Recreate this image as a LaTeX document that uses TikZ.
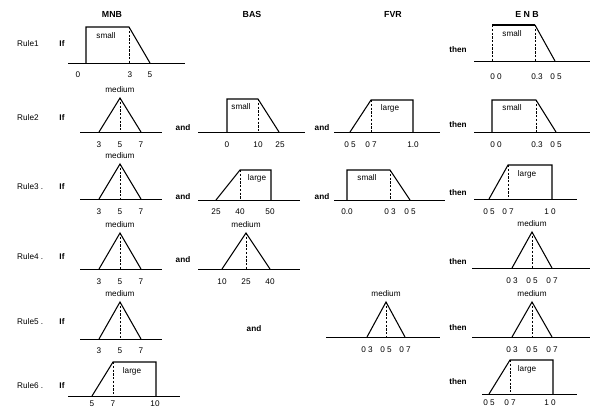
\documentclass[tikz,border=0pt]{standalone}
\usepackage{fontspec}
\setmainfont{Liberation Sans}
\usetikzlibrary{positioning}

\begin{document}
\begin{tikzpicture}[x=0.03cm,y=-0.03cm,
    axis/.style={line width=0.6pt},
    mf/.style={line width=0.9pt,line join=miter},
    cut/.style={line width=0.6pt,dash pattern=on 2pt off 1.2pt},
    txt/.style={font=\fontsize{7}{8}\selectfont,inner sep=0pt},
    hd/.style={font=\fontsize{7.5}{8}\selectfont\bfseries,inner sep=0pt},
    word/.style={font=\fontsize{7}{8}\selectfont\bfseries,inner sep=0pt}]
  \fill[white] (0,0) rectangle (593,409);
  \useasboundingbox (0,0) rectangle (593,409);

  \node[hd] (hMNB) at (112,14) {MNB};
  \node[hd] (hBAS) at (252,14) {BAS};
  \node[hd] (hFVR) at (393,14) {FVR};
  \node[hd] (hENB) at (527,14) {E N B};

  \foreach \i/\y/\t in {1/44/{Rule1},2/118/{Rule2},3/187/{Rule3 .},4/257/{Rule4 .},5/322/{Rule5 .},6/386/{Rule6 .}}{
    \node[txt,anchor=west] (rule\i) at (17,\y) {\t};
    \node[word] (if\i) at (62,\y) {If};
  }
  \foreach \i/\y in {1/50,2/125,3/193,4/262,5/328,6/382}
    \node[word] (then\i) at (458,\y) {then};
  \node[word] (and2a) at (183,128) {and};
  \node[word] (and2b) at (322,128) {and};
  \node[word] (and3a) at (183,197) {and};
  \node[word] (and3b) at (322,197) {and};
  \node[word] (and4a) at (183,260) {and};
  \node[word] (and5a) at (254,329) {and};

  % rule 1
  \draw[axis] (68,63) -- (185,63);
  \draw[mf] (86,63) -- (86,27) -- (129,27) -- (150,63);
  \draw[cut] (129,27) -- (129,63);
  \node[txt] (s1m) at (106,36) {small};
  \node[txt] (a1m) at (78,75) {0};
  \node[txt] (b1m) at (130,75) {3};
  \node[txt] (c1m) at (150,75) {5};
  \draw[axis] (474,61) -- (590,61);
  \draw[mf] (535,25) -- (555,61);
  \draw[mf] (492,25) -- (535,25);
  \draw[cut] (492,25) -- (492,61) (535,25) -- (535,61);
  \node[txt] (s1e) at (512,34) {small};
  \node[txt] (a1e) at (496,77) {0 0};
  \node[txt] (b1e) at (537,77) {0.3};
  \node[txt] (c1e) at (556,77) {0 5};

  % rule 2
  \node[txt] (m2m) at (120,90) {medium};
  \draw[axis] (80,132) -- (162,132);
  \draw[mf] (99,132) -- (120,98) -- (141,132);
  \draw[cut] (120,98) -- (120,132);
  \node[txt] (a2m) at (99,145) {3};
  \node[txt] (b2m) at (120,145) {5};
  \node[txt] (c2m) at (141,145) {7};
  \draw[axis] (198,132) -- (305,132);
  \draw[mf] (227,132) -- (227,99) -- (258,99) -- (279,132);
  \draw[cut] (258,99) -- (258,132);
  \node[txt] (s2b) at (241,107) {small};
  \node[txt] (a2b) at (227,145) {0};
  \node[txt] (b2b) at (258,145) {10};
  \node[txt] (c2b) at (280,145) {25};
  \draw[axis] (334,132) -- (440,132);
  \draw[mf] (350,132) -- (371,100) -- (413,100) -- (413,132);
  \draw[cut] (371,100) -- (371,132);
  \node[txt] (l2f) at (390,108) {large};
  \node[txt] (a2f) at (350,145) {0 5};
  \node[txt] (b2f) at (371,145) {0 7};
  \node[txt] (c2f) at (413,145) {1.0};
  \draw[axis] (474,132) -- (590,132);
  \draw[mf] (492,132) -- (492,100) -- (536,100) -- (556,132);
  \draw[cut] (536,100) -- (536,132);
  \node[txt] (s2e) at (512,108) {small};
  \node[txt] (a2e) at (496,145) {0 0};
  \node[txt] (b2e) at (537,145) {0.3};
  \node[txt] (c2e) at (556,145) {0 5};

  % rule 3
  \node[txt] (m3m) at (120,156) {medium};
  \draw[axis] (80,199) -- (162,199);
  \draw[mf] (99,199) -- (120,164) -- (141,199);
  \draw[cut] (120,164) -- (120,199);
  \node[txt] (a3m) at (99,212) {3};
  \node[txt] (b3m) at (120,212) {5};
  \node[txt] (c3m) at (141,212) {7};
  \draw[axis] (198,200) -- (300,200);
  \draw[mf] (216,200) -- (240,170) -- (271,170) -- (271,200);
  \draw[cut] (240,170) -- (240,200);
  \node[txt] (l3b) at (257,178) {large};
  \node[txt] (a3b) at (216,212) {25};
  \node[txt] (b3b) at (240,212) {40};
  \node[txt] (c3b) at (270,212) {50};
  \draw[axis] (334,200) -- (445,200);
  \draw[mf] (347,200) -- (347,170) -- (390,170) -- (410,200);
  \draw[cut] (390,170) -- (390,200);
  \node[txt] (s3f) at (367,178) {small};
  \node[txt] (a3f) at (347,212) {0.0};
  \node[txt] (b3f) at (390,212) {0 3};
  \node[txt] (c3f) at (410,212) {0 5};
  \draw[axis] (474,199) -- (577,199);
  \draw[mf] (489,199) -- (508,165) -- (552,165) -- (552,199);
  \draw[cut] (508,165) -- (508,199);
  \node[txt] (l3e) at (527,174) {large};
  \node[txt] (a3e) at (489,212) {0 5};
  \node[txt] (b3e) at (508,212) {0 7};
  \node[txt] (c3e) at (550,212) {1 0};

  % rule 4
  \node[txt] (m4m) at (120,225) {medium};
  \draw[axis] (80,269) -- (162,269);
  \draw[mf] (99,269) -- (120,233) -- (141,269);
  \draw[cut] (120,233) -- (120,269);
  \node[txt] (a4m) at (99,282) {3};
  \node[txt] (b4m) at (120,282) {5};
  \node[txt] (c4m) at (141,282) {7};
  \node[txt] (m4b) at (246,225) {medium};
  \draw[axis] (198,269) -- (300,269);
  \draw[mf] (222,269) -- (246,233) -- (270,269);
  \draw[cut] (246,233) -- (246,269);
  \node[txt] (a4b) at (222,282) {10};
  \node[txt] (b4b) at (246,282) {25};
  \node[txt] (c4b) at (270,282) {40};
  \node[txt] (m4e) at (532,224) {medium};
  \draw[axis] (472,268) -- (590,268);
  \draw[mf] (512,268) -- (532,232) -- (552,268);
  \draw[cut] (532,232) -- (532,268);
  \node[txt] (a4e) at (512,281) {0 3};
  \node[txt] (b4e) at (532,281) {0 5};
  \node[txt] (c4e) at (552,281) {0 7};

  % rule 5
  \node[txt] (m5m) at (120,294) {medium};
  \draw[axis] (80,339) -- (162,339);
  \draw[mf] (99,339) -- (120,302) -- (141,339);
  \draw[cut] (120,302) -- (120,339);
  \node[txt] (a5m) at (99,351) {3};
  \node[txt] (b5m) at (120,351) {5};
  \node[txt] (c5m) at (141,351) {7};
  \node[txt] (m5f) at (386,294) {medium};
  \draw[axis] (326,337) -- (440,337);
  \draw[mf] (367,337) -- (386,302) -- (405,337);
  \draw[cut] (386,302) -- (386,337);
  \node[txt] (a5f) at (367,350) {0 3};
  \node[txt] (b5f) at (386,350) {0 5};
  \node[txt] (c5f) at (405,350) {0 7};
  \node[txt] (m5e) at (532,294) {medium};
  \draw[axis] (472,337) -- (590,337);
  \draw[mf] (512,337) -- (532,302) -- (552,337);
  \draw[cut] (532,302) -- (532,337);
  \node[txt] (a5e) at (512,350) {0 3};
  \node[txt] (b5e) at (532,350) {0 5};
  \node[txt] (c5e) at (552,350) {0 7};

  % rule 6
  \draw[axis] (68,396) -- (180,396);
  \draw[mf] (92,396) -- (113,362) -- (156,362) -- (156,396);
  \draw[cut] (113,362) -- (113,396);
  \node[txt] (l6m) at (132,371) {large};
  \node[txt] (a6m) at (92,404) {5};
  \node[txt] (b6m) at (113,404) {7};
  \node[txt] (c6m) at (155,404) {10};
  \draw[axis] (482,394) -- (577,394);
  \draw[mf] (489,394) -- (510,360) -- (553,360) -- (553,394);
  \draw[cut] (510,360) -- (510,394);
  \node[txt] (l6e) at (527,369) {large};
  \node[txt] (a6e) at (489,403) {0 5};
  \node[txt] (b6e) at (510,403) {0 7};
  \node[txt] (c6e) at (550,403) {1 0};
\end{tikzpicture}
\end{document}
